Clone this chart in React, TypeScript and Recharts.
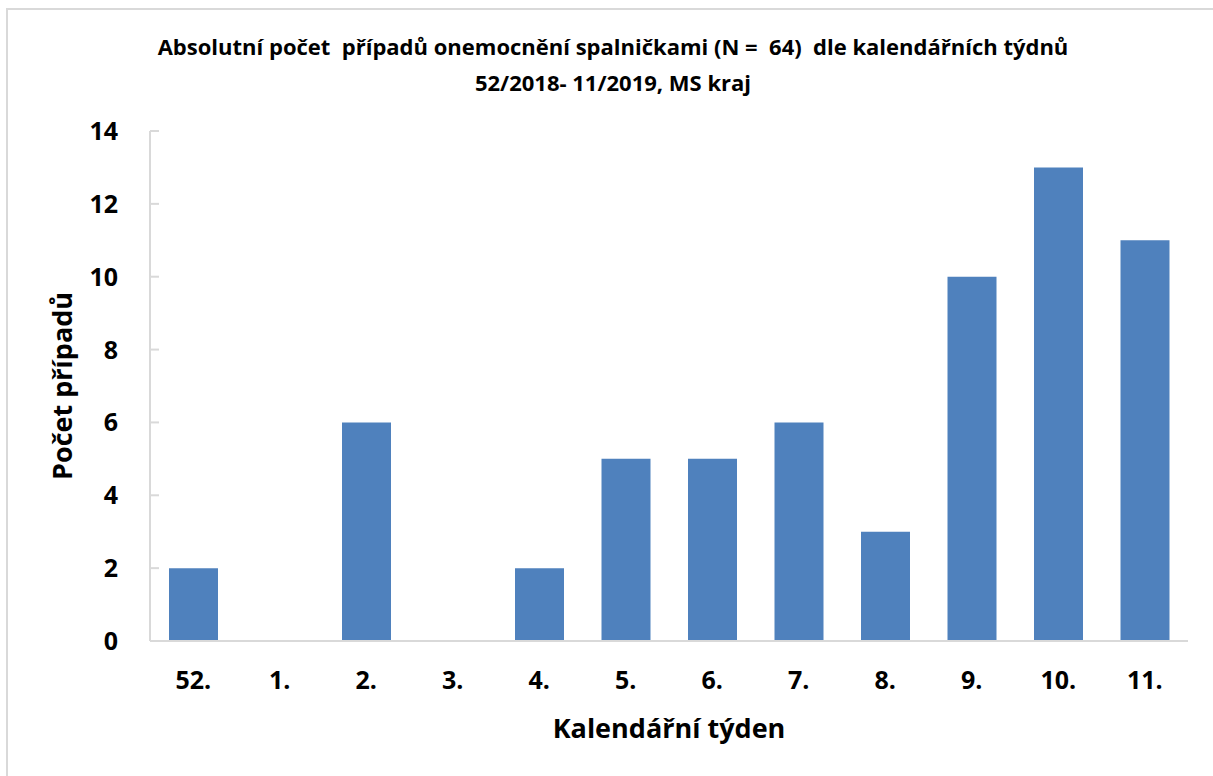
import { Bar, BarChart, Label, XAxis, YAxis } from 'recharts'

const WEEKS = ['52.', '1.', '2.', '3.', '4.', '5.', '6.', '7.', '8.', '9.', '10.', '11.']
const CASES = [2, 0, 6, 0, 2, 5, 5, 6, 3, 10, 13, 11]
const Y_TICKS = [0, 2, 4, 6, 8, 10, 12, 14]

const TITLE_1 = 'Absolutní počet  případů onemocnění spalničkami (N =  64)  dle kalendářních týdnů'
const TITLE_2 = '52/2018- 11/2019, MS kraj'

const FONT = '"Open Sans", Lato, sans-serif'
const AXIS = '#d9d9d9'

const data = WEEKS.map((week, i) => ({ week, cases: CASES[i] }))

function YTick(props: any) {
  const { x, y, payload } = props
  return (
    <g>
      <line x1={x} x2={x + 9} y1={y} y2={y} stroke={AXIS} strokeWidth={2} />
      <text
        x={x - 32}
        y={y}
        dy="0.36em"
        textAnchor="end"
        fontFamily={FONT}
        fontWeight={700}
        fontSize={25}
        fill="#000"
      >
        {payload.value}
      </text>
    </g>
  )
}

export default function App() {
  return (
    <div
      style={{
        position: 'fixed',
        inset: 0,
        overflow: 'hidden',
        background: '#fff',
      }}
    >
      <div
        style={{
          position: 'absolute',
          left: 6,
          top: 8,
          width: 1240,
          height: 800,
          border: `2px solid ${AXIS}`,
        }}
      />
      <div
        style={{
          position: 'absolute',
          left: 0,
          top: 28,
          width: 1226,
          textAlign: 'center',
          fontFamily: FONT,
          fontWeight: 700,
          fontSize: 22,
          lineHeight: '36px',
          whiteSpace: 'pre',
          color: '#000',
        }}
      >
        <div>{TITLE_1}</div>
        <div>{TITLE_2}</div>
      </div>
      <div style={{ position: 'absolute', left: 0, top: 0 }}>
        <BarChart
          width={1213}
          height={776}
          data={data}
          margin={{ top: 131, right: 25, bottom: 25, left: 50 }}
        >
          <XAxis
            dataKey="week"
            height={110}
            interval={0}
            tickLine={false}
            tickSize={0}
            tickMargin={30}
            axisLine={{ stroke: AXIS, strokeWidth: 2 }}
            tick={{ fontFamily: FONT, fontWeight: 700, fontSize: 25, fill: '#000' }}
          >
            <Label
              value="Kalendářní týden"
              position="insideBottom"
              offset={13}
              style={{ fontFamily: FONT, fontWeight: 700, fontSize: 27, fill: '#000' }}
            />
          </XAxis>
          <YAxis
            width={100}
            domain={[0, 14]}
            ticks={Y_TICKS}
            interval={0}
            tickLine={false}
            tickSize={0}
            tickMargin={0}
            axisLine={{ stroke: AXIS, strokeWidth: 2 }}
            tick={<YTick />}
          >
            <Label
              value="Počet případů"
              angle={-90}
              position="center"
              dx={-38}
              style={{ fontFamily: FONT, fontWeight: 700, fontSize: 27, fill: '#000' }}
            />
          </YAxis>
          <Bar dataKey="cases" fill="#4f81bd" barSize={49} isAnimationActive={false} />
        </BarChart>
      </div>
    </div>
  )
}
